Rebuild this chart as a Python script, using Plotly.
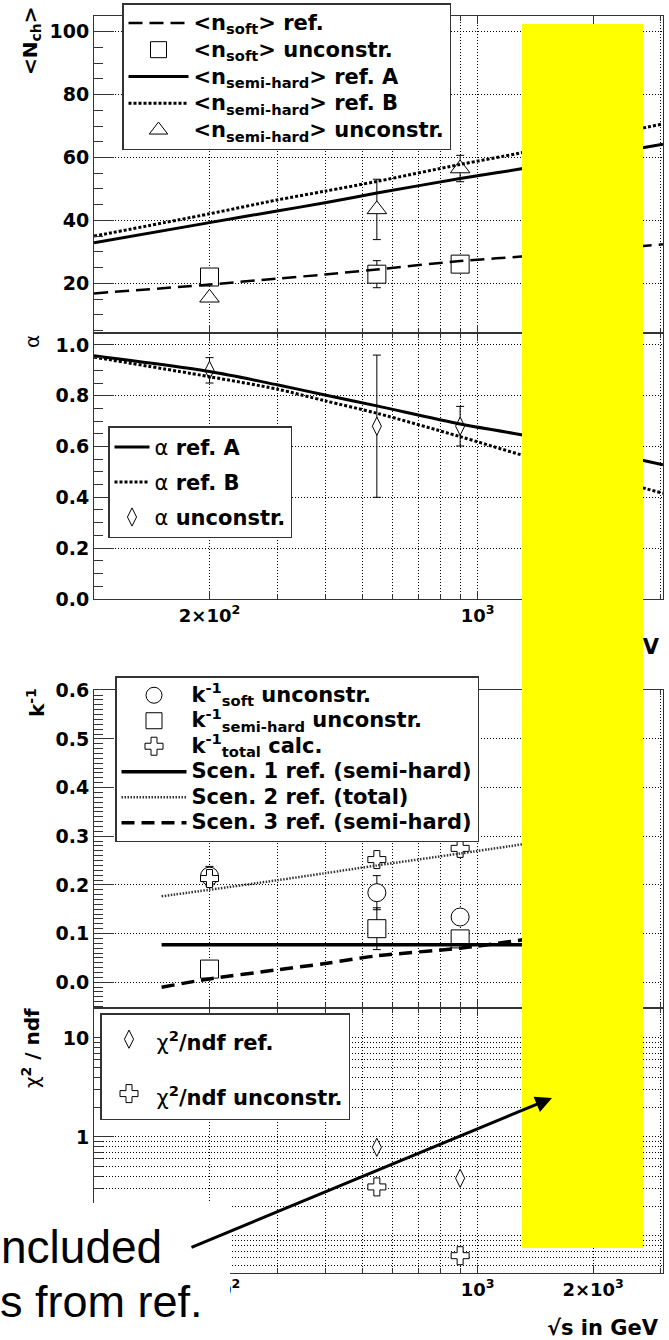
import plotly.graph_objects as go

W, H = 669, 1340

# ---------------- data ----------------
# top group: <N_ch> and alpha vs sqrt(s) in GeV
s_curve = [100, 200, 300, 400, 546, 900, 1300, 3040]
nsoft_ref = [16.8, 19.6, 21.5, 22.8, 24.4, 27.1, 28.5, 32.4]
nsemi_refA = [32.9, 39.3, 43.0, 45.6, 48.7, 53.3, 56.4, 64.2]
nsemi_refB = [35.0, 42.1, 46.5, 49.3, 52.4, 57.8, 61.5, 70.7]
alpha_refA = [0.957, 0.895, 0.843, 0.803, 0.760, 0.689, 0.646, 0.528]
alpha_refB = [0.952, 0.875, 0.826, 0.780, 0.731, 0.639, 0.567, 0.416]

s_pts = [200, 546, 900]
nsoft_unc = [22.0, 22.9, 26.1]
nsoft_unc_err = [1.0, 4.3, 1.5]
nsemi_unc = [15.4, 43.5, 56.5]
nsemi_unc_err = [1.0, 9.6, 4.2]
alpha_unc = [0.90, 0.68, 0.68]
alpha_unc_err = [0.05, 0.28, 0.078]

# bottom group: k^-1 and chi2/ndf
s_kcurve = [150, 200, 300, 400, 546, 900, 1350]
scen1 = [0.077, 0.077, 0.077, 0.077, 0.077, 0.077, 0.077]
scen2 = [0.1765, 0.190, 0.2095, 0.224, 0.240, 0.2645, 0.285]
scen3 = [-0.0103, 0.0068, 0.0254, 0.0384, 0.0542, 0.070, 0.0886]

ksoft_unc = [0.218, 0.184, 0.134]
ksoft_unc_err = [0.02, 0.035, 0.01]
ksemi_unc = [0.027, 0.110, 0.089]
ksemi_unc_err = [0.005, 0.043, 0.01]
ktotal_calc = [0.213, 0.252, 0.275]

s_chi = [546, 900]
chi2_ref = [0.787, 0.383]
chi2_unc = [0.313, 0.0632]

# tick labels
x_major = [200, 1000, 2000]
x_major_text = ["2×10<sup>2</sup>", "10<sup>3</sup>", "2×10<sup>3</sup>"]
x_minor = [100, 300, 400, 500, 600, 700, 800, 900, 3000]
n_major = [20, 40, 60, 80, 100]
a_major = [0.0, 0.2, 0.4, 0.6, 0.8, 1.0]
k_major = [0.0, 0.1, 0.2, 0.3, 0.4, 0.5, 0.6]
c_major = [1, 10]

FONT = "DejaVu Sans"
NOTEFONT = "Liberation Sans"
LC = "#333333"
GRID = dict(showgrid=True, gridcolor="black", griddash="1px,2px", gridwidth=1)
TXT = 21  # legend text size


def px_x(p):
    return p / W


def px_y(p):
    return 1 - p / H


X_DOM = [px_x(94), px_x(663)]
Y1 = [px_y(333), px_y(16)]
Y2 = [px_y(599), px_y(333)]
Y3 = [px_y(1008), px_y(690)]
Y4 = [px_y(1273), px_y(1008)]

fig = go.Figure()

ERR = dict(type="data", visible=True, color="black", thickness=1, width=4)


def pts(x, y, err, sym, size, name, xa, ya, leg, rank):
    kw = {}
    if err is not None:
        kw["error_y"] = dict(ERR, array=err)
    fig.add_trace(go.Scatter(
        x=x, y=y, mode="markers", name=name, xaxis=xa, yaxis=ya,
        marker=dict(symbol=sym, size=size, color="white",
                    line=dict(color="black", width=1)),
        legend=leg, legendrank=rank, legendgroup=name, **kw))


def line(x, y, dash, width, name, xa, ya, leg, rank, color="black"):
    fig.add_trace(go.Scatter(
        x=x, y=y, mode="lines", name=name, xaxis=xa, yaxis=ya,
        line=dict(color=color, width=width, dash=dash, shape="spline", smoothing=0.8),
        legend=leg, legendrank=rank, legendgroup=name))


def big(t, px=TXT):
    return f"<span style='font-size:{px}px'>{t}</span>"


# ---- <N_ch> panel
pts(s_pts, nsoft_unc, nsoft_unc_err, "square", 18,
    big("&lt;n<sub>soft</sub>&gt; unconstr."), "x", "y", "legend", 2)
pts(s_pts, nsemi_unc, nsemi_unc_err, "triangle-up", 17,
    big("&lt;n<sub>semi-hard</sub>&gt; unconstr."), "x", "y", "legend", 5)
line(s_curve, nsoft_ref, "14px,7px", 2.5,
     big("&lt;n<sub>soft</sub>&gt; ref."), "x", "y", "legend", 1)
line(s_curve, nsemi_refA, "solid", 3,
     big("&lt;n<sub>semi-hard</sub>&gt; ref. A"), "x", "y", "legend", 3)
line(s_curve, nsemi_refB, "3px,2px", 3,
     big("&lt;n<sub>semi-hard</sub>&gt; ref. B"), "x", "y", "legend", 4)

# ---- alpha panel
NA = "<span style='font-weight:normal'>α</span>"
pts(s_pts, alpha_unc, alpha_unc_err, "diamond-tall", 13,
    big(f"{NA} unconstr."), "x2", "y2", "legend2", 3)
line(s_curve, alpha_refA, "solid", 3, big(f"{NA} ref. A"), "x2", "y2", "legend2", 1)
line(s_curve, alpha_refB, "3px,2px", 3, big(f"{NA} ref. B"), "x2", "y2", "legend2", 2)

# ---- k^-1 panel
pts(s_pts, ksoft_unc, ksoft_unc_err, "circle", 18,
    big("k<sup>-1</sup><sub>soft</sub> unconstr."), "x3", "y3", "legend3", 1)
pts(s_pts, ksemi_unc, ksemi_unc_err, "square", 18,
    big("k<sup>-1</sup><sub>semi-hard</sub> unconstr."), "x3", "y3", "legend3", 2)
pts(s_pts, ktotal_calc, None, "cross", 15,
    big("k<sup>-1</sup><sub>total</sub> calc."), "x3", "y3", "legend3", 3)
line(s_kcurve, scen1, "solid", 3.5, big("Scen. 1 ref. (semi-hard)"),
     "x3", "y3", "legend3", 4)
line(s_kcurve, scen2, "1.5px,1.5px", 2.5, big("Scen. 2 ref. (total)"),
     "x3", "y3", "legend3", 5, color="#333333")
line(s_kcurve, scen3, "13px,7px", 3.5, big("Scen. 3 ref. (semi-hard)"),
     "x3", "y3", "legend3", 6)

# ---- chi2/ndf panel
NC = "<span style='font-weight:normal'>χ</span>"
pts(s_chi, chi2_ref, None, "diamond-tall", 13,
    big(f"{NC}<sup>2</sup>/ndf ref."), "x4", "y4", "legend4", 1)
pts(s_chi, chi2_unc, None, "cross", 15,
    big(f"{NC}<sup>2</sup>/ndf unconstr."), "x4", "y4", "legend4", 2)


# ---------------- axes ----------------
def xaxis(dom_anchor, labels):
    return dict(
        type="log", range=[2.0, 3.483], domain=X_DOM, anchor=dom_anchor,
        tickmode="array", tickvals=x_major,
        ticktext=x_major_text if labels else [""] * len(x_major),
        showticklabels=labels, ticks="inside", ticklen=8, tickwidth=1, tickcolor=LC,
        tickfont=dict(family=FONT, size=18, color="black", weight="bold"),
        showline=True, linecolor=LC, linewidth=1, mirror="ticks",
        zeroline=False, automargin=False, **GRID,
        minor=dict(tickvals=x_minor, ticks="inside", ticklen=5, tickcolor=LC,
                   **GRID))


def yaxis(dom, rng, tv, tt, minor, anchor, log=False):
    d = dict(
        domain=dom, range=rng, anchor=anchor,
        tickmode="array", tickvals=tv, ticktext=tt,
        ticks="inside", ticklen=20, tickwidth=1, tickcolor=LC,
        tickfont=dict(family=FONT, size=19, color="black", weight="bold"),
        showline=True, linecolor=LC, linewidth=1, mirror=True,
        zeroline=False, automargin=False, **GRID,
        minor=dict(tickvals=minor, ticks="inside", ticklen=9, tickcolor=LC,
                   showgrid=log, gridcolor="black", griddash="1px,2px", gridwidth=1))
    if log:
        d["type"] = "log"
    return d


n_minor = [v for v in range(5, 106, 5) if v not in n_major]
a_minor = [round(0.05 * i, 2) for i in range(0, 22) if i % 4 != 0]
k_minor = [round(0.01 * i, 2) for i in range(-5, 61) if i % 10 != 0]
c_minor = ([round(0.01 * i, 2) for i in range(5, 10)] +
           [round(0.1 * i, 1) for i in range(1, 10)] + list(range(2, 10)) + [20])

fig.update_layout(
    xaxis=xaxis("y", False),
    yaxis=yaxis(Y1, [4.2, 105], n_major, [str(v) for v in n_major], n_minor, "x"),
    xaxis2=xaxis("y2", True),
    yaxis2=yaxis(Y2, [-0.0005, 1.047], a_major, [f"{v:.1f}" for v in a_major],
                 a_minor, "x2"),
    xaxis3=xaxis("y3", False),
    yaxis3=yaxis(Y3, [-0.053, 0.6005], k_major, [f"{v:.1f}" for v in k_major],
                 k_minor, "x3"),
    xaxis4=xaxis("y4", True),
    yaxis4=yaxis(Y4, [-1.374, 1.303], c_major, ["1", "10"], c_minor, "x4", log=True),
)

LEG = dict(xanchor="left", yanchor="top", bgcolor="white", bordercolor=LC,
           borderwidth=1.5, traceorder="grouped")
fig.update_layout(
    legend=dict(LEG, x=px_x(122), y=px_y(3), itemwidth=60, tracegroupgap=0,
                font=dict(family=FONT, size=18.3, color="black", weight="bold")),
    legend2=dict(LEG, x=px_x(108), y=px_y(426), itemwidth=35, tracegroupgap=6,
                 font=dict(family=FONT, size=20, color="black", weight="bold")),
    legend3=dict(LEG, x=px_x(115), y=px_y(676), itemwidth=65, tracegroupgap=0,
                 font=dict(family=FONT, size=17.3, color="black", weight="bold")),
    legend4=dict(LEG, x=px_x(100), y=px_y(1013), itemwidth=45, tracegroupgap=15,
                 font=dict(family=FONT, size=28, color="black", weight="bold")),
)

ann = []


def text_ann(t, x, y, size, bold=True, angle=0, xanchor="center", yanchor="middle"):
    ann.append(dict(text=t, x=px_x(x), y=px_y(y), xref="paper", yref="paper",
                    showarrow=False, textangle=angle, xanchor=xanchor, yanchor=yanchor,
                    font=dict(family=FONT, size=size, color="black",
                              weight="bold" if bold else "normal")))


text_ann("&lt;N<sub>ch</sub>&gt;", 31, 41, 20, angle=-90)
text_ann("α", 32, 342, 20, bold=False, angle=-90)
text_ann("k<sup>-1</sup>", 36, 703, 20, angle=-90)
text_ann("<span style='font-weight:normal'>χ</span><sup>2</sup> / ndf", 31, 1048, 20,
         angle=-90)
text_ann("√s in GeV", 662, 647, 21, xanchor="right")
text_ann("√s in GeV", 661, 1328, 21, xanchor="right")

# yellow overlay box
ann.append(dict(text=" ", x=px_x(582.5), y=px_y(636), xref="paper", yref="paper",
                showarrow=False, width=121, height=1224, bgcolor="#FFFF00",
                borderpad=0, borderwidth=0, xanchor="center", yanchor="middle"))
# white box behind the note
ann.append(dict(text=" ", x=0, y=px_y(1203), xref="paper", yref="paper",
                showarrow=False, width=230, height=137, bgcolor="white",
                borderpad=0, borderwidth=0, xanchor="left", yanchor="top"))
ann.append(dict(text="ncluded", x=px_x(164), y=px_y(1247), xref="paper", yref="paper",
                showarrow=False, xanchor="right", yanchor="middle",
                font=dict(family=NOTEFONT, size=46, color="black")))
ann.append(dict(text="s from ref.", x=px_x(205), y=px_y(1301), xref="paper",
                yref="paper", showarrow=False, xanchor="right", yanchor="middle",
                font=dict(family=NOTEFONT, size=45, color="black")))
# arrow
ann.append(dict(text="", x=px_x(552), y=px_y(1098), xref="paper", yref="paper",
                ax=-362, ay=150, axref="pixel", ayref="pixel", showarrow=True,
                arrowhead=2, arrowsize=1.1, arrowwidth=3, arrowcolor="black",
                standoff=0, startstandoff=0))

fig.update_layout(
    annotations=ann,
    width=W, height=H, margin=dict(l=0, r=0, t=0, b=0, pad=0, autoexpand=False),
    paper_bgcolor="white", plot_bgcolor="white", showlegend=True,
    font=dict(family=FONT, color="black"),
)

fig.write_html("out.html", config={"displayModeBar": False},
               post_script="document.body.style.margin='0px';")
